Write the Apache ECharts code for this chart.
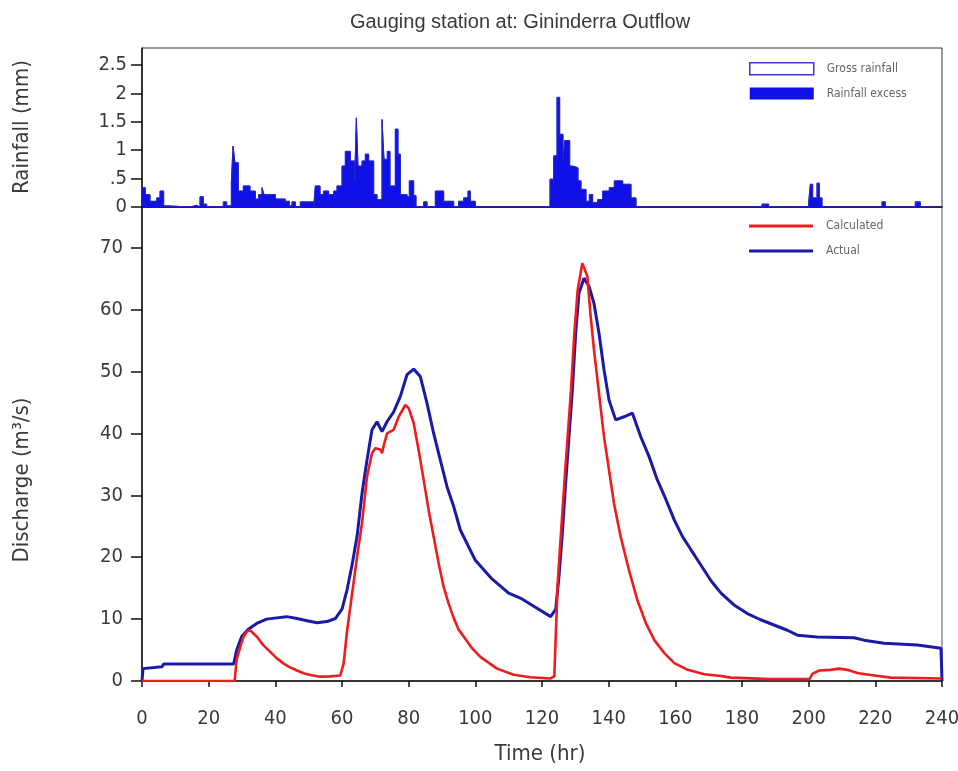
<!DOCTYPE html>
<html><head><meta charset="utf-8">
<script src="https://cdn.jsdelivr.net/npm/echarts@6/dist/echarts.min.js"></script>
<style>html,body{margin:0;padding:0;background:#fff}#c{width:958px;height:771px}</style>
</head><body><div id="c"></div>
<script>
// ---- rainfall (mm): step breakpoints, value holds until next time (hr)
const rainTime = [0,1,2.4,4.4,5.4,6.5,7.5,14.4,16.4,17.4,18.4,19.4,24.4,25.4,26.8,27.3,27.9,28.9,30.4,32.4,34,35,36,36.6,40,43,44.2,45,46,47.5,51.5,52,53.4,54.5,56,57.5,58.5,60,61,62.5,63.8,64.3,64.8,66,67,68,69.5,70.5,72,72.6,73.6,74.4,76,76.8,77.5,79.5,80.2,81.5,82.2,84.5,85.5,88,90.5,93.5,95,96.5,97.8,98.5,100,122.4,123.5,124.5,125.3,126.3,126.8,128.3,129.3,130.8,131.7,133.2,134.2,135.2,136.7,138.2,140.2,141.7,144.2,146.7,148.2,151.5,152,161.5,162,186,188,200,200.5,201.2,202.5,203.2,204,222,223,232,233.5,240];
const rainValue = [0.34,0.22,0.1,0.16,0.28,0.02,0,0.03,0,0.18,0.05,0,0.09,0.02,0.43,1.07,0.78,0.28,0.37,0.28,0.14,0.22,0.34,0.22,0.14,0.1,0.02,0.09,0,0.09,0,0.37,0.22,0.28,0.22,0.28,0.37,0.72,0.98,0.81,0.48,1.57,0.72,0.81,0.93,0.81,0.22,0.13,1.54,0.84,0.98,0.37,1.37,0.93,0.22,0.18,0.46,0.2,0,0.09,0,0.28,0.1,0,0.1,0.16,0.28,0.1,0,0.49,0.9,1.93,1.28,0.81,1.17,0.72,0.69,0.46,0.31,0.1,0.22,0.08,0.13,0.28,0.34,0.46,0.4,0.16,0,0.02,0,0.02,0,0.05,0,0.08,0.4,0.16,0.42,0.16,0,0.09,0,0.09,0,0];

// ---- discharge (m3/s)
const actualTime = [0,0.3,6,6.5,27.5,28.4,29.9,31.9,34.4,37.4,40.4,43.4,46.5,49.5,52.5,55.5,58,60,61.5,63,64.5,66,67.5,69,70.5,72,73.5,75.5,77.5,79.5,81.5,83.5,85.5,87.5,89.5,91.5,93.5,95.5,100,105,110,113.5,118.5,122.6,124.1,125.1,126.1,127.1,128.1,129.1,130.1,131.1,132.6,134.1,135.6,137.1,138.6,140.1,142.1,144.6,147.1,149.6,152.1,154.6,157.2,159.7,162.2,164.7,167.7,170.7,173.7,177.6,181.6,185.6,189.6,193.6,196.6,202.6,213.6,216.6,222.6,232.6,239.7,240];
const actualQ = [0,2.0,2.3,2.75,2.75,5.0,7.2,8.35,9.3,10.0,10.2,10.4,10.1,9.75,9.4,9.6,10.1,11.6,14.7,18.7,23.3,30.3,35.7,40.6,41.9,40.3,41.9,43.5,46.0,49.5,50.4,49.2,44.9,40.0,35.7,31.4,28.2,24.4,19.5,16.5,14.2,13.4,11.75,10.4,11.6,16.9,23.9,32,39.5,47.0,56.2,62.7,65.1,63.8,61.0,56.2,50.3,45.4,42.2,42.7,43.3,39.5,36.3,32.5,29.3,26.0,23.3,21.2,18.7,16.2,14.2,12.3,10.9,9.9,9.05,8.2,7.4,7.1,7.0,6.6,6.1,5.8,5.3,0];
const calcTime = [0,27.8,28.4,29.5,30.5,31.5,32.4,34.4,36.4,38.4,40.4,42.4,44.4,46.5,48.5,50.5,53.4,56.5,59.5,60.5,61.5,63,64.5,66,67.5,69,70,71.5,72,72.5,73.5,75.5,77,79,80,81.5,83,84.5,86,87.5,89,90.5,92,93.5,95,96.5,99,101.5,106.5,111.5,116.5,122.5,123.7,124.7,125.7,126.7,127.7,128.7,129.7,130.7,132.1,133.6,134.6,135.6,137.1,138.6,140.1,141.6,143.6,146.1,148.6,151.2,153.7,156.7,159.7,163.7,168.7,173.7,176.6,188.6,200.2,201.2,203.2,206.6,209.1,211.6,214.6,218.6,224.6,240];
const calcQ = [0,0,3.5,5.5,7.2,8.0,8.2,7.2,5.8,4.75,3.7,2.85,2.2,1.7,1.25,0.97,0.7,0.75,0.9,2.85,8.0,14.0,20.0,25.5,33.0,36.8,37.6,37.4,36.8,38.0,40.0,40.6,42.7,44.6,44.1,41.7,37.3,32.5,27.6,23.3,19.0,15.2,12.5,10.2,8.3,7.2,5.3,3.9,2.0,1.0,0.6,0.4,0.8,15.8,23.9,32,39.5,47,56.2,63.2,67.5,65.4,58.9,53.5,46.5,39.5,34.1,28.7,23.3,17.9,13.1,9.3,6.6,4.5,2.9,1.8,1.1,0.8,0.55,0.3,0.3,1.2,1.7,1.8,2.0,1.8,1.3,0.97,0.55,0.4];

// ---- tick labels
const timeTicks = [0,20,40,60,80,100,120,140,160,180,200,220,240];
const rainTickLabels = ['0','.5','1','1.5','2','2.5'];
const flowTicks = [0,10,20,30,40,50,60,70];

const zip = (a, b) => a.map((t, i) => [t, b[i]]);
const NARROW = "'Liberation Sans Narrow','DejaVu Sans Condensed','Liberation Sans',sans-serif";
const SANS = "'Liberation Sans',Arial,sans-serif";
const TXT = '#3a3a3a';

const chart = echarts.init(document.getElementById('c'), null, {renderer: 'canvas'});
chart.setOption({
  animation: false,
  backgroundColor: '#fff',
  graphic: [
    {type: 'text', x: 520, y: 22, style: {text: 'Gauging station at: Gininderra Outflow', textAlign: 'center', textVerticalAlign: 'middle', font: '20px ' + SANS, fill: TXT}},
    {type: 'text', x: 22, y: 127, rotation: Math.PI / 2, style: {text: 'Rainfall (mm)', textAlign: 'center', textVerticalAlign: 'middle', font: '22px ' + NARROW, fill: TXT}},
    {type: 'text', x: 22, y: 480, rotation: Math.PI / 2, style: {text: 'Discharge (m³/s)', textAlign: 'center', textVerticalAlign: 'middle', font: '22px ' + NARROW, fill: TXT}},
    {type: 'text', x: 540, y: 754, style: {text: 'Time (hr)', textAlign: 'center', textVerticalAlign: 'middle', font: '22px ' + NARROW, fill: TXT}}
  ],
  legend: [
    {
      selectedMode: false, orient: 'vertical', left: 744, top: 57,
      itemWidth: 64, itemHeight: 12, itemGap: 12,
      textStyle: {fontFamily: NARROW, fontSize: 12, color: '#666', padding: [0, 0, 0, 8]},
      data: [
        {name: 'Gross rainfall', icon: 'rect', itemStyle: {color: '#ffffff', borderColor: '#3a3ac8', borderWidth: 1.5}},
        {name: 'Rainfall excess', icon: 'rect', itemStyle: {color: '#1010e8'}}
      ]
    },
    {
      selectedMode: false, orient: 'vertical', left: 744, top: 215,
      itemWidth: 64, itemHeight: 3, itemGap: 13,
      textStyle: {fontFamily: NARROW, fontSize: 12, color: '#666', padding: [0, 0, 0, 8]},
      data: [
        {name: 'Calculated', icon: 'rect'},
        {name: 'Actual', icon: 'rect'}
      ]
    }
  ],
  grid: [
    {left: 142, right: 16, top: 48, height: 159, show: true, borderColor: '#333', borderWidth: 1, backgroundColor: 'transparent', outerBoundsMode: 'none', containLabel: false},
    {left: 142, right: 16, top: 207, bottom: 90, show: true, borderColor: '#555', borderWidth: 1, backgroundColor: 'transparent', outerBoundsMode: 'none', containLabel: false}
  ],
  xAxis: [
    {gridIndex: 0, type: 'value', min: 0, max: 240, interval: 20,
      axisLine: {lineStyle: {color: '#111', width: 1.5}}, axisTick: {show: false}, axisLabel: {show: false}, splitLine: {show: false}},
    {gridIndex: 1, type: 'value', min: 0, max: 240, interval: 20,
      axisLine: {onZero: false, lineStyle: {color: '#111', width: 1.5}},
      axisTick: {show: true, inside: false, length: 6, lineStyle: {color: '#111', width: 1.5}},
      axisLabel: {margin: 28, fontFamily: NARROW, fontSize: 20, color: TXT,
        formatter: v => timeTicks.includes(v) ? String(v) : ''},
      splitLine: {show: false}}
  ],
  yAxis: [
    {gridIndex: 0, type: 'value', min: 0, max: 2.8, interval: 0.5,
      axisLine: {show: true, lineStyle: {color: '#111', width: 1.5}},
      axisTick: {show: true, inside: false, length: 11, lineStyle: {color: '#111', width: 1.5}},
      axisLabel: {margin: 15, fontFamily: NARROW, fontSize: 20, color: TXT, showMaxLabel: false,
        formatter: v => { const k = Math.round(v * 2); return Math.abs(v * 2 - k) < 1e-6 && k < rainTickLabels.length ? rainTickLabels[k] : ''; }},
      splitLine: {show: false}},
    {gridIndex: 1, type: 'value', min: 0, max: 76.6, interval: 10,
      axisLine: {show: true, lineStyle: {color: '#111', width: 1.5}},
      axisTick: {show: true, inside: false, length: 11, lineStyle: {color: '#111', width: 1.5}},
      axisLabel: {margin: 19, fontFamily: NARROW, fontSize: 20, color: TXT, showMaxLabel: false,
        formatter: v => flowTicks.includes(v) ? String(v) : ''},
      splitLine: {show: false}}
  ],
  series: [
    {name: 'Rainfall excess', type: 'line', xAxisIndex: 0, yAxisIndex: 0, step: 'end', symbol: 'none',
      itemStyle: {color: '#1010e8'}, lineStyle: {color: '#1010e8', width: 0.8},
      areaStyle: {color: '#1010e8', opacity: 1}, data: zip(rainTime, rainValue)},
    {name: 'Gross rainfall', type: 'line', xAxisIndex: 0, yAxisIndex: 0, step: 'end', symbol: 'none',
      itemStyle: {color: '#3a3ac8'}, lineStyle: {color: '#2a2ab8', width: 1}, data: zip(rainTime, rainValue)},
    {name: 'Actual', type: 'line', xAxisIndex: 1, yAxisIndex: 1, symbol: 'none',
      itemStyle: {color: '#1a1aa8'}, lineStyle: {color: '#1a1aa8', width: 3}, data: zip(actualTime, actualQ)},
    {name: 'Calculated', type: 'line', xAxisIndex: 1, yAxisIndex: 1, symbol: 'none',
      itemStyle: {color: '#ee1c1c'}, lineStyle: {color: '#ee1c1c', width: 2.6}, data: zip(calcTime, calcQ)}
  ]
});
</script>
</body></html>
